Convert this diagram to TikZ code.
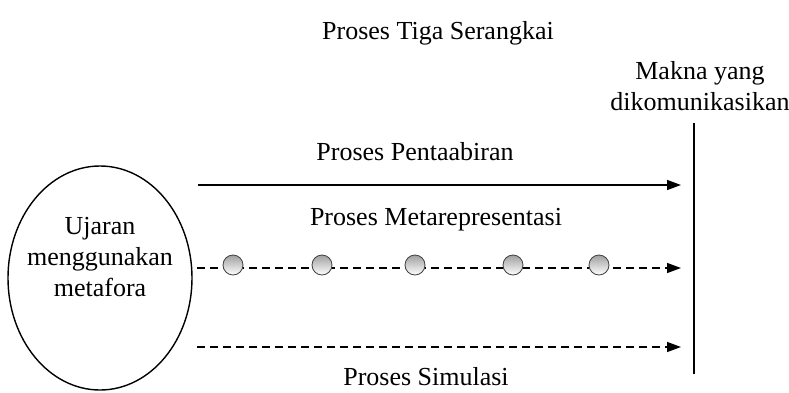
\documentclass[tikz,border=0pt]{standalone}
\usepackage{fontspec}
\setmainfont{Liberation Serif}
\usepackage{tikz}
\usetikzlibrary{arrows.meta,shapes.geometric}

\tikzset{
  label text/.style={font=\fontsize{13}{15.5}\selectfont, inner sep=0pt},
  process arrow/.style={-{Triangle[length=7pt,width=5pt]}, line width=0.7pt},
  bead/.style={circle, draw=black!75, line width=0.4pt, minimum size=10pt, inner sep=0pt, top color=gray!75, bottom color=white}
}

\begin{document}
\begin{tikzpicture}[x=0.5pt,y=-0.5pt]
          \useasboundingbox (0,0) rectangle (789,392);

          \node[label text] (Title) at (438,33) {Proses Tiga Serangkai};
          \node[label text, align=center] (Meaning) at (700,86) {Makna yang\\dikomunikasikan};

          \node[ellipse, draw, line width=0.7pt, minimum width=92pt, minimum height=112pt, inner sep=0pt] (Utterance) at (100,278) {};
          \node[label text, align=center] (UtteranceText) at (100,257) {Ujaran\\menggunakan\\metafora};

          \coordinate (LineTop) at (694,123);
          \coordinate (LineBottom) at (694,374);
          \draw[line width=1.2pt] (LineTop) -- (LineBottom);

          \coordinate (PentaStart) at (198,185);
          \coordinate (PentaEnd) at (681,185);
          \coordinate (MetaStart) at (197,268);
          \coordinate (MetaEnd) at (681,268);
          \coordinate (SimStart) at (197,347);
          \coordinate (SimEnd) at (681,347);

          \draw[process arrow] (PentaStart) to (PentaEnd);
          \draw[process arrow, dash pattern=on 4pt off 2.5pt] (MetaStart) to (MetaEnd);
          \draw[process arrow, dash pattern=on 4pt off 2.5pt] (SimStart) to (SimEnd);

          \foreach \x [count=\i] in {233,322,415,513,599}
            \node[bead] (Bead\i) at (\x,265) {};

          \node[label text] (Penta) at (415,152) {Proses Pentaabiran};
          \node[label text] (Meta) at (436,220) {Proses Metarepresentasi};
          \node[label text] (Sim) at (426,377) {Proses Simulasi};
        \end{tikzpicture}
\end{document}
